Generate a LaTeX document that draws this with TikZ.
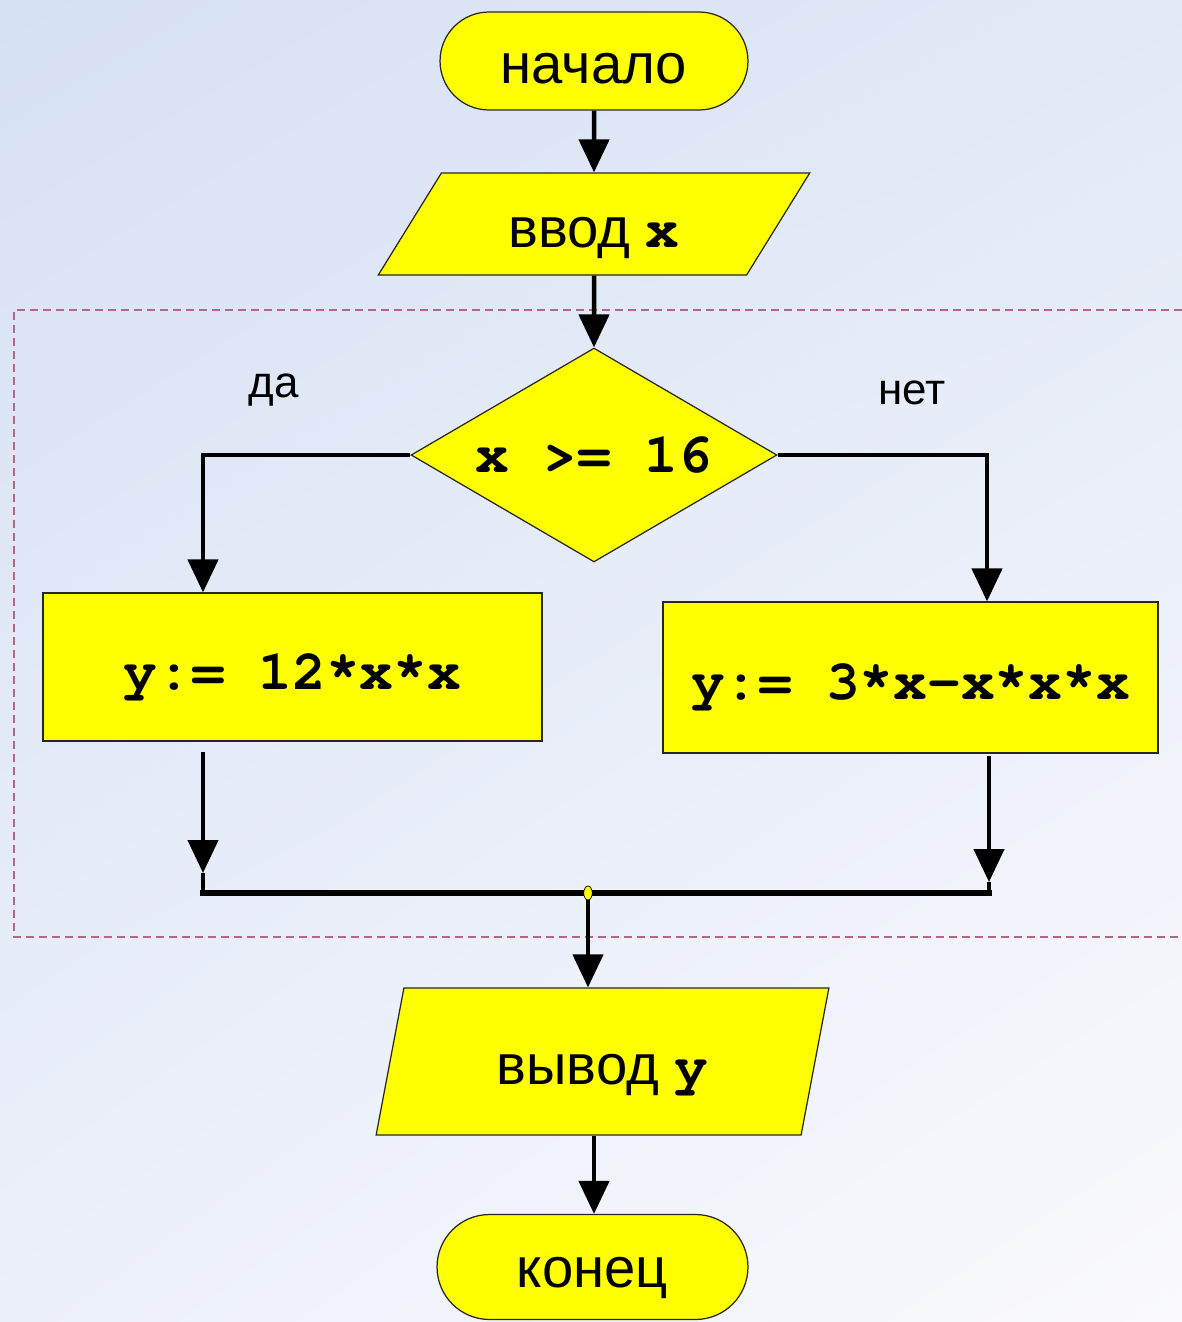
\documentclass[tikz,border=0pt]{standalone}
\usepackage{fontspec}
\setmainfont{Liberation Sans}
\setmonofont{texgyrecursor}[Extension=.otf, UprightFont=*-regular, BoldFont=*-bold]
\usetikzlibrary{arrows.meta,shapes.geometric,shadings}
\definecolor{ylw}{RGB}{255,255,0}
\definecolor{dashc}{RGB}{175,105,135}
\definecolor{bgUL}{RGB}{214,225,244}
\definecolor{bgUR}{RGB}{226,233,246}
\definecolor{bgLL}{RGB}{236,240,250}
\definecolor{bgLR}{RGB}{250,250,253}
\newcommand{\dn}[2]{\raisebox{-#1}[\height][\depth]{#2}}
\begin{document}
\begin{tikzpicture}[x=0.02cm,y=-0.02cm,
  blk/.style={draw=black!85, line width=0.7pt, fill=ylw, inner sep=0pt, font=\fontsize{32}{38}\selectfont},
  term/.style={blk, rectangle, rounded corners=0.98cm, minimum width=6.16cm, minimum height=1.96cm},
  ioin/.style={blk, trapezium, trapezium stretches=true, trapezium left angle=49.5, trapezium right angle=130.5, minimum width=8.64cm, minimum height=2.04cm},
  ioout/.style={blk, trapezium, trapezium stretches=true, trapezium left angle=70.5, trapezium right angle=109.5, minimum width=9.06cm, minimum height=2.94cm},
  cond/.style={blk, diamond, aspect=1.71, minimum width=7.32cm, minimum height=4.28cm},
  proc/.style={blk, rectangle},
  lbl/.style={font=\fontsize{25}{29}\selectfont, inner sep=0pt},
  flow/.style={line width=0.09cm, -{Triangle[width=0.6cm,length=0.66cm]}},
  wire/.style={line width=0.09cm},
  merge/.style={line width=0.13cm, line cap=rect},
  frame/.style={draw=dashc, line width=0.8pt, dash pattern=on 0.16cm off 0.1cm}
]
\useasboundingbox (0,0) rectangle (1182,1322);
\shade[upper left=bgUL, upper right=bgUR, lower left=bgLL, lower right=bgLR] (0,0) rectangle (1182,1322);

% dashed frame (open at the right edge)
\draw[frame] (1182,310) -- (14,310) -- (14,937) -- (1182,937);

% nodes
\node[term] (start) at (594,61) {\dn{0.16cm}{начало}};
\node[ioin] (in) at (594,224) {\dn{0.28cm}{ввод {\ttfamily\bfseries x}}};
\node[cond] (c) at (594,455) {\ttfamily\bfseries x >= 16};
\node[proc, minimum width=9.98cm, minimum height=2.96cm] (lbox) at (292.5,667) {\dn{0.2cm}{\ttfamily\bfseries y:= 12*x*x}};
\node[proc, minimum width=9.9cm, minimum height=3.02cm] (rbox) at (910.5,677.5) {\dn{0.2cm}{\ttfamily\bfseries y:= 3*x-x*x*x}};
\node[ioout] (out) at (602.5,1061.5) {\dn{0.28cm}{вывод {\ttfamily\bfseries y}}};
\node[term, minimum width=6.22cm, minimum height=2.1cm, rounded corners=1.05cm] (end) at (592.5,1267) {\dn{0.22cm}{конец}};

\node[lbl] (yes) at (274,390) {да};
\node[lbl] (no) at (912,393) {нет};

% coordinates for the branches
\coordinate (lk) at (203,455);
\coordinate (rk) at (987,455);
\coordinate (la) at (203,752);
\coordinate (lb) at (203,873);
\coordinate (lc) at (203,893);
\coordinate (ra) at (989,756);
\coordinate (rb) at (989,882);
\coordinate (rc) at (989,893);

% connectors
\draw[flow] (start.south) -- (in.north);
\draw[flow] (in.south) -- (c.north);
\draw[flow] (c.west) -- (lk) -- (lk |- lbox.north);
\draw[flow] (c.east) -- (rk) -- (rk |- rbox.north);
\draw[flow] (la) -- (lb);
\draw[wire] (lb) -- (lc);
\draw[flow] (ra) -- (rb);
\draw[wire] (rb) -- (rc);
\draw[merge] (lc) -- (rc);
\node[ellipse, draw=black, fill=ylw, line width=0.4pt, minimum width=0.17cm, minimum height=0.28cm, inner sep=0pt] (jn) at (588,893) {};
\draw[flow] (jn.south) -- (jn.south |- out.north);
\draw[flow] (out.south -| start.south) -- (end.north -| start.south);
\end{tikzpicture}
\end{document}
